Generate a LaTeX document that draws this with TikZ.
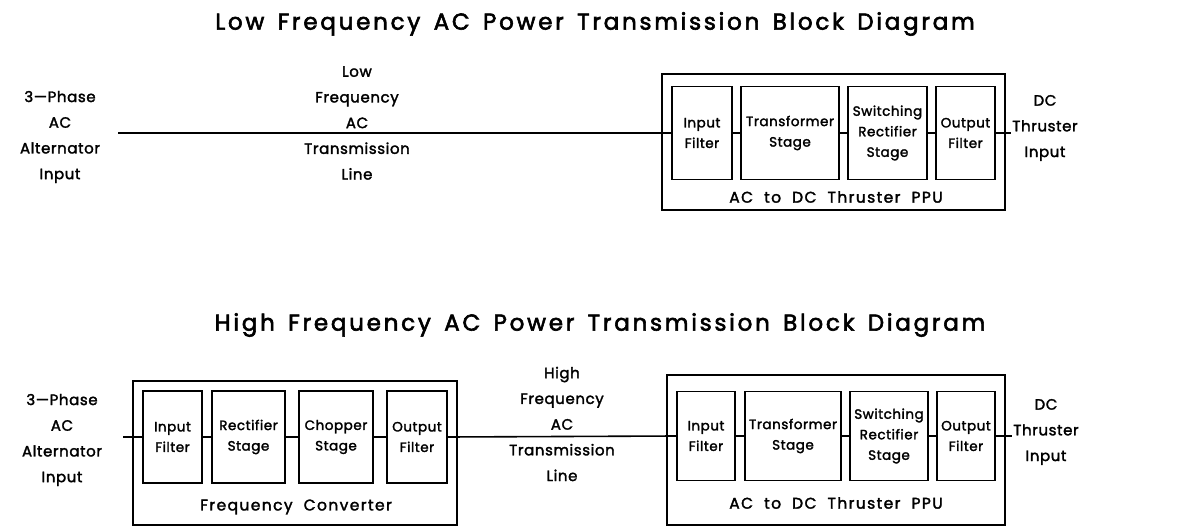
\documentclass[tikz,border=0pt]{standalone}
\usepackage{fontspec}
\setmainfont{Poppins}
\newfontfamily\titlefam{Poppins}[LetterSpace=12,WordSpace=1.5,FakeBold=2.5]
\newfontfamily\labelfam{Poppins}[LetterSpace=4,WordSpace=2,FakeBold=2]
\newfontfamily\capfam{Poppins}[LetterSpace=9,WordSpace=2,FakeBold=2]
\begin{document}
\begin{tikzpicture}[x=1pt,y=-1pt,
  titlef/.style={inner sep=0pt,font=\titlefam\fontsize{23}{26}\selectfont},
  lbl/.style={align=center,inner sep=0pt,font=\labelfam\fontsize{15}{25.7}\selectfont},
  blk/.style={draw,line width=1.8pt,inner sep=0pt,align=center,font=\labelfam\fontsize{13.5}{20.5}\selectfont},
  outerbox/.style={draw,line width=2pt,inner sep=0pt},
  wire/.style={line width=1.6pt},
  boxcaption/.style={inner sep=0pt,font=\capfam\fontsize{15.5}{20}\selectfont}]
\useasboundingbox (0,0) rectangle (1188,529);
% ---------- top diagram ----------
\node[titlef] (t1) at (595,24) {Low Frequency AC Power Transmission Block Diagram};
\node[lbl] (src1) at (60,137) {3—Phase\\AC\\Alternator\\Input};
\node[lbl] (tl1) at (357,123) {Low\\Frequency\\AC\\Transmission\\Line};
\node[outerbox,minimum width=343,minimum height=136] (ppu1) at (833.5,142) {};
\node[blk,minimum width=60,minimum height=93] (if1) at (702,133) {Input\\Filter};
\node[blk,minimum width=98,minimum height=93] (tr1) at (790,133) {Transformer\\Stage};
\node[blk,minimum width=79,minimum height=93] (sw1) at (887.5,133) {Switching\\Rectifier\\Stage};
\node[blk,minimum width=59,minimum height=93] (of1) at (965.5,133) {Output\\Filter};
\node[boxcaption] (ppu1c) at (836,197) {AC to DC Thruster PPU};
\node[lbl] (dc1) at (1045,128) {DC\\Thruster\\Input};
\coordinate (in1) at (118,133);
\coordinate (out1) at (1011,133);
\draw[wire] (in1) -- (if1.west);
\draw[wire] (if1.east) -- (tr1.west);
\draw[wire] (tr1.east) -- (sw1.west);
\draw[wire] (sw1.east) -- (of1.west);
\draw[wire] (of1.east) -- (out1);
% ---------- bottom diagram ----------
\node[titlef] (t2) at (600,325) {High Frequency AC Power Transmission Block Diagram};
\node[lbl] (src2) at (62,440) {3—Phase\\AC\\Alternator\\Input};
\node[outerbox,minimum width=324,minimum height=144] (fc) at (295,453) {};
\node[blk,minimum width=59,minimum height=92] (if2) at (172.5,437) {Input\\Filter};
\node[blk,minimum width=73,minimum height=92] (re2) at (248.5,437) {Rectifier\\Stage};
\node[blk,minimum width=74,minimum height=92] (ch2) at (336,437) {Chopper\\Stage};
\node[blk,minimum width=60,minimum height=92] (of2) at (417,437) {Output\\Filter};
\node[boxcaption] (fcc) at (296,507) {Frequency Converter};
\node[lbl] (tl2) at (562,424) {High\\Frequency\\AC\\Transmission\\Line};
\node[outerbox,minimum width=338,minimum height=150] (ppu2) at (836,450) {};
\node[blk,minimum width=58,minimum height=89] (if3) at (706,436) {Input\\Filter};
\node[blk,minimum width=96,minimum height=89] (tr3) at (793,436) {Transformer\\Stage};
\node[blk,minimum width=78,minimum height=89] (sw3) at (889,436) {Switching\\Rectifier\\Stage};
\node[blk,minimum width=58,minimum height=89] (of3) at (966,436) {Output\\Filter};
\node[boxcaption] (ppu2c) at (836,503) {AC to DC Thruster PPU};
\node[lbl] (dc2) at (1046,432) {DC\\Thruster\\Input};
\coordinate (in2) at (123,437);
\coordinate (out2) at (1012,436);
\draw[wire] (in2) -- (if2.west);
\draw[wire] (if2.east) -- (re2.west);
\draw[wire] (re2.east) -- (ch2.west);
\draw[wire] (ch2.east) -- (of2.west);
\draw[wire] (of2.east) -- (if3.west);
\draw[wire] (if3.east) -- (tr3.west);
\draw[wire] (tr3.east) -- (sw3.west);
\draw[wire] (sw3.east) -- (of3.west);
\draw[wire] (of3.east) -- (out2);
\end{tikzpicture}
\end{document}
